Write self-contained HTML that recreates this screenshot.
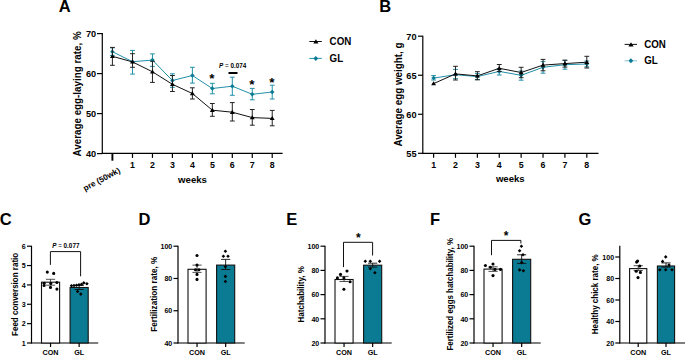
<!DOCTYPE html>
<html><head><meta charset="utf-8"><style>
html,body{margin:0;padding:0;background:#fff;overflow:hidden;width:685px;height:355px;}
svg{display:block;font-family:"Liberation Sans", sans-serif;}
</style></head><body>
<svg width="685" height="355" viewBox="0 0 685 355">
<rect width="685" height="355" fill="#fff"/>
<text x="58.7" y="11.7" font-size="16.5" font-weight="bold" text-anchor="start" fill="#000">A</text>
<text x="379.3" y="11.7" font-size="16.5" font-weight="bold" text-anchor="start" fill="#000">B</text>
<text x="-0.3" y="224.7" font-size="16.5" font-weight="bold" text-anchor="start" fill="#000">C</text>
<text x="138.6" y="224.7" font-size="16.5" font-weight="bold" text-anchor="start" fill="#000">D</text>
<text x="286.2" y="224.7" font-size="16.5" font-weight="bold" text-anchor="start" fill="#000">E</text>
<text x="430.1" y="224.7" font-size="16.5" font-weight="bold" text-anchor="start" fill="#000">F</text>
<text x="578.4" y="224.7" font-size="16.5" font-weight="bold" text-anchor="start" fill="#000">G</text>
<line x1="102.3" y1="33.1" x2="102.3" y2="153.9" stroke="#000" stroke-width="1.2"/>
<line x1="101.7" y1="153.4" x2="282.6" y2="153.4" stroke="#000" stroke-width="1.2"/>
<line x1="97" y1="33.6" x2="102.3" y2="33.6" stroke="#000" stroke-width="1.2"/>
<text x="96.2" y="36.6" font-size="9.2" font-weight="bold" text-anchor="end" fill="#000">70</text>
<line x1="97" y1="73.6" x2="102.3" y2="73.6" stroke="#000" stroke-width="1.2"/>
<text x="96.2" y="76.6" font-size="9.2" font-weight="bold" text-anchor="end" fill="#000">60</text>
<line x1="97" y1="113.6" x2="102.3" y2="113.6" stroke="#000" stroke-width="1.2"/>
<text x="96.2" y="116.6" font-size="9.2" font-weight="bold" text-anchor="end" fill="#000">50</text>
<line x1="97" y1="153.6" x2="102.3" y2="153.6" stroke="#000" stroke-width="1.2"/>
<text x="96.2" y="156.6" font-size="9.2" font-weight="bold" text-anchor="end" fill="#000">40</text>
<line x1="112.4" y1="153.4" x2="112.4" y2="160.70000000000002" stroke="#000" stroke-width="1.9"/>
<line x1="132.5" y1="153.4" x2="132.5" y2="157.9" stroke="#000" stroke-width="1.2"/>
<text x="132.5" y="167.8" font-size="8.8" font-weight="bold" text-anchor="middle" fill="#000">1</text>
<line x1="152.46" y1="153.4" x2="152.46" y2="157.9" stroke="#000" stroke-width="1.2"/>
<text x="152.46" y="167.8" font-size="8.8" font-weight="bold" text-anchor="middle" fill="#000">2</text>
<line x1="172.42000000000002" y1="153.4" x2="172.42000000000002" y2="157.9" stroke="#000" stroke-width="1.2"/>
<text x="172.42000000000002" y="167.8" font-size="8.8" font-weight="bold" text-anchor="middle" fill="#000">3</text>
<line x1="192.38" y1="153.4" x2="192.38" y2="157.9" stroke="#000" stroke-width="1.2"/>
<text x="192.38" y="167.8" font-size="8.8" font-weight="bold" text-anchor="middle" fill="#000">4</text>
<line x1="212.34" y1="153.4" x2="212.34" y2="157.9" stroke="#000" stroke-width="1.2"/>
<text x="212.34" y="167.8" font-size="8.8" font-weight="bold" text-anchor="middle" fill="#000">5</text>
<line x1="232.3" y1="153.4" x2="232.3" y2="157.9" stroke="#000" stroke-width="1.2"/>
<text x="232.3" y="167.8" font-size="8.8" font-weight="bold" text-anchor="middle" fill="#000">6</text>
<line x1="252.26" y1="153.4" x2="252.26" y2="157.9" stroke="#000" stroke-width="1.2"/>
<text x="252.26" y="167.8" font-size="8.8" font-weight="bold" text-anchor="middle" fill="#000">7</text>
<line x1="272.22" y1="153.4" x2="272.22" y2="157.9" stroke="#000" stroke-width="1.2"/>
<text x="272.22" y="167.8" font-size="8.8" font-weight="bold" text-anchor="middle" fill="#000">8</text>
<text x="192.5" y="182.8" font-size="9.6" font-weight="bold" text-anchor="middle" fill="#000">weeks</text>
<text x="0" y="0" font-size="8.2" font-weight="bold" text-anchor="end" transform="translate(120.8 172.2) rotate(-28)" fill="#000">pre (50wk)</text>
<text x="0" y="0" font-size="10.5" font-weight="bold" text-anchor="middle" transform="translate(80.7 93.9) rotate(-90) scale(0.935 1)" fill="#000">Average egg-laying rate, %</text>
<line x1="112.4" y1="47.8" x2="112.4" y2="55.4" stroke="#2190a8" stroke-width="1"/>
<line x1="110.0" y1="47.8" x2="114.80000000000001" y2="47.8" stroke="#2190a8" stroke-width="1"/>
<line x1="110.0" y1="55.4" x2="114.80000000000001" y2="55.4" stroke="#2190a8" stroke-width="1"/>
<line x1="132.5" y1="50.4" x2="132.5" y2="74.1" stroke="#2190a8" stroke-width="1"/>
<line x1="130.1" y1="50.4" x2="134.9" y2="50.4" stroke="#2190a8" stroke-width="1"/>
<line x1="130.1" y1="74.1" x2="134.9" y2="74.1" stroke="#2190a8" stroke-width="1"/>
<line x1="152.46" y1="53.9" x2="152.46" y2="66.4" stroke="#2190a8" stroke-width="1"/>
<line x1="150.06" y1="53.9" x2="154.86" y2="53.9" stroke="#2190a8" stroke-width="1"/>
<line x1="150.06" y1="66.4" x2="154.86" y2="66.4" stroke="#2190a8" stroke-width="1"/>
<line x1="172.42000000000002" y1="73.8" x2="172.42000000000002" y2="87.3" stroke="#2190a8" stroke-width="1"/>
<line x1="170.02" y1="73.8" x2="174.82000000000002" y2="73.8" stroke="#2190a8" stroke-width="1"/>
<line x1="170.02" y1="87.3" x2="174.82000000000002" y2="87.3" stroke="#2190a8" stroke-width="1"/>
<line x1="192.38" y1="67.3" x2="192.38" y2="83.1" stroke="#2190a8" stroke-width="1"/>
<line x1="189.98" y1="67.3" x2="194.78" y2="67.3" stroke="#2190a8" stroke-width="1"/>
<line x1="189.98" y1="83.1" x2="194.78" y2="83.1" stroke="#2190a8" stroke-width="1"/>
<line x1="212.34" y1="83.3" x2="212.34" y2="93.8" stroke="#2190a8" stroke-width="1"/>
<line x1="209.94" y1="83.3" x2="214.74" y2="83.3" stroke="#2190a8" stroke-width="1"/>
<line x1="209.94" y1="93.8" x2="214.74" y2="93.8" stroke="#2190a8" stroke-width="1"/>
<line x1="232.3" y1="77.2" x2="232.3" y2="95.3" stroke="#2190a8" stroke-width="1"/>
<line x1="229.9" y1="77.2" x2="234.70000000000002" y2="77.2" stroke="#2190a8" stroke-width="1"/>
<line x1="229.9" y1="95.3" x2="234.70000000000002" y2="95.3" stroke="#2190a8" stroke-width="1"/>
<line x1="252.26" y1="88.4" x2="252.26" y2="99.8" stroke="#2190a8" stroke-width="1"/>
<line x1="249.85999999999999" y1="88.4" x2="254.66" y2="88.4" stroke="#2190a8" stroke-width="1"/>
<line x1="249.85999999999999" y1="99.8" x2="254.66" y2="99.8" stroke="#2190a8" stroke-width="1"/>
<line x1="272.22" y1="85.2" x2="272.22" y2="99.0" stroke="#2190a8" stroke-width="1"/>
<line x1="269.82000000000005" y1="85.2" x2="274.62" y2="85.2" stroke="#2190a8" stroke-width="1"/>
<line x1="269.82000000000005" y1="99.0" x2="274.62" y2="99.0" stroke="#2190a8" stroke-width="1"/>
<polyline points="112.40,51.70 132.50,61.70 152.46,60.10 172.42,80.50 192.38,75.50 212.34,88.50 232.30,86.20 252.26,94.30 272.22,92.00" fill="none" stroke="#2190a8" stroke-width="1" stroke-linejoin="round"/>
<path d="M112.40,49.45 L114.65,51.70 L112.40,53.95 L110.15,51.70 Z" fill="#0b7b93"/>
<path d="M132.50,59.45 L134.75,61.70 L132.50,63.95 L130.25,61.70 Z" fill="#0b7b93"/>
<path d="M152.46,57.85 L154.71,60.10 L152.46,62.35 L150.21,60.10 Z" fill="#0b7b93"/>
<path d="M172.42,78.25 L174.67,80.50 L172.42,82.75 L170.17,80.50 Z" fill="#0b7b93"/>
<path d="M192.38,73.25 L194.63,75.50 L192.38,77.75 L190.13,75.50 Z" fill="#0b7b93"/>
<path d="M212.34,86.25 L214.59,88.50 L212.34,90.75 L210.09,88.50 Z" fill="#0b7b93"/>
<path d="M232.30,83.95 L234.55,86.20 L232.30,88.45 L230.05,86.20 Z" fill="#0b7b93"/>
<path d="M252.26,92.05 L254.51,94.30 L252.26,96.55 L250.01,94.30 Z" fill="#0b7b93"/>
<path d="M272.22,89.75 L274.47,92.00 L272.22,94.25 L269.97,92.00 Z" fill="#0b7b93"/>
<line x1="112.4" y1="47.4" x2="112.4" y2="65.3" stroke="#222" stroke-width="1"/>
<line x1="110.0" y1="47.4" x2="114.80000000000001" y2="47.4" stroke="#222" stroke-width="1"/>
<line x1="110.0" y1="65.3" x2="114.80000000000001" y2="65.3" stroke="#222" stroke-width="1"/>
<line x1="132.5" y1="53.7" x2="132.5" y2="67.3" stroke="#222" stroke-width="1"/>
<line x1="130.1" y1="53.7" x2="134.9" y2="53.7" stroke="#222" stroke-width="1"/>
<line x1="130.1" y1="67.3" x2="134.9" y2="67.3" stroke="#222" stroke-width="1"/>
<line x1="152.46" y1="61.3" x2="152.46" y2="82.4" stroke="#222" stroke-width="1"/>
<line x1="150.06" y1="61.3" x2="154.86" y2="61.3" stroke="#222" stroke-width="1"/>
<line x1="150.06" y1="82.4" x2="154.86" y2="82.4" stroke="#222" stroke-width="1"/>
<line x1="172.42000000000002" y1="75.5" x2="172.42000000000002" y2="91.5" stroke="#222" stroke-width="1"/>
<line x1="170.02" y1="75.5" x2="174.82000000000002" y2="75.5" stroke="#222" stroke-width="1"/>
<line x1="170.02" y1="91.5" x2="174.82000000000002" y2="91.5" stroke="#222" stroke-width="1"/>
<line x1="192.38" y1="87.8" x2="192.38" y2="99.0" stroke="#222" stroke-width="1"/>
<line x1="189.98" y1="87.8" x2="194.78" y2="87.8" stroke="#222" stroke-width="1"/>
<line x1="189.98" y1="99.0" x2="194.78" y2="99.0" stroke="#222" stroke-width="1"/>
<line x1="212.34" y1="103.5" x2="212.34" y2="116.3" stroke="#222" stroke-width="1"/>
<line x1="209.94" y1="103.5" x2="214.74" y2="103.5" stroke="#222" stroke-width="1"/>
<line x1="209.94" y1="116.3" x2="214.74" y2="116.3" stroke="#222" stroke-width="1"/>
<line x1="232.3" y1="102.6" x2="232.3" y2="121.0" stroke="#222" stroke-width="1"/>
<line x1="229.9" y1="102.6" x2="234.70000000000002" y2="102.6" stroke="#222" stroke-width="1"/>
<line x1="229.9" y1="121.0" x2="234.70000000000002" y2="121.0" stroke="#222" stroke-width="1"/>
<line x1="252.26" y1="109.5" x2="252.26" y2="125.2" stroke="#222" stroke-width="1"/>
<line x1="249.85999999999999" y1="109.5" x2="254.66" y2="109.5" stroke="#222" stroke-width="1"/>
<line x1="249.85999999999999" y1="125.2" x2="254.66" y2="125.2" stroke="#222" stroke-width="1"/>
<line x1="272.22" y1="110.4" x2="272.22" y2="125.8" stroke="#222" stroke-width="1"/>
<line x1="269.82000000000005" y1="110.4" x2="274.62" y2="110.4" stroke="#222" stroke-width="1"/>
<line x1="269.82000000000005" y1="125.8" x2="274.62" y2="125.8" stroke="#222" stroke-width="1"/>
<polyline points="112.40,56.30 132.50,61.90 152.46,71.80 172.42,84.30 192.38,93.50 212.34,110.20 232.30,112.20 252.26,117.60 272.22,118.40" fill="none" stroke="#111" stroke-width="1" stroke-linejoin="round"/>
<path d="M112.40,53.90 L114.85,58.00 L109.95,58.00 Z" fill="#000"/>
<path d="M132.50,59.50 L134.95,63.60 L130.05,63.60 Z" fill="#000"/>
<path d="M152.46,69.40 L154.91,73.50 L150.01,73.50 Z" fill="#000"/>
<path d="M172.42,81.90 L174.87,86.00 L169.97,86.00 Z" fill="#000"/>
<path d="M192.38,91.10 L194.83,95.20 L189.93,95.20 Z" fill="#000"/>
<path d="M212.34,107.80 L214.79,111.90 L209.89,111.90 Z" fill="#000"/>
<path d="M232.30,109.80 L234.75,113.90 L229.85,113.90 Z" fill="#000"/>
<path d="M252.26,115.20 L254.71,119.30 L249.81,119.30 Z" fill="#000"/>
<path d="M272.22,116.00 L274.67,120.10 L269.77,120.10 Z" fill="#000"/>
<text x="212" y="82.7" font-size="13.5" font-weight="bold" text-anchor="middle" fill="#000">*</text>
<text x="252" y="88.9" font-size="13.5" font-weight="bold" text-anchor="middle" fill="#000">*</text>
<text x="272" y="86.9" font-size="13.5" font-weight="bold" text-anchor="middle" fill="#000">*</text>
<line x1="228.5" y1="73" x2="237.5" y2="73" stroke="#000" stroke-width="2"/>
<text x="232.6" y="67.8" font-size="6.9" font-weight="bold" text-anchor="middle" transform="translate(232.6 0) scale(0.92 1) translate(-232.6 0)"><tspan font-style="italic">P</tspan><tspan font-weight="normal"> = </tspan>0.074</text>
<line x1="309.3" y1="41.5" x2="321.8" y2="41.5" stroke="#111" stroke-width="1"/>
<path d="M315.90,39.30 L318.50,43.50 L313.30,43.50 Z" fill="#000"/>
<text x="0" y="0" font-size="10.5" font-weight="bold" text-anchor="start" transform="translate(329.6 44.8) scale(0.93 1)" fill="#000">CON</text>
<line x1="309.3" y1="58.4" x2="321.8" y2="58.4" stroke="#2190a8" stroke-width="1"/>
<path d="M315.80,55.90 L318.20,58.40 L315.80,60.90 L313.40,58.40 Z" fill="#0b7b93"/>
<text x="0" y="0" font-size="10.5" font-weight="bold" text-anchor="start" transform="translate(329.6 61.8) scale(0.93 1)" fill="#000">GL</text>
<line x1="422.8" y1="35.7" x2="422.8" y2="153.8" stroke="#000" stroke-width="1.2"/>
<line x1="422.2" y1="153.3" x2="598.5" y2="153.3" stroke="#000" stroke-width="1.2"/>
<line x1="418" y1="36.2" x2="422.8" y2="36.2" stroke="#000" stroke-width="1.2"/>
<text x="416.6" y="39.7" font-size="9.2" font-weight="bold" text-anchor="end" fill="#000">70</text>
<line x1="418" y1="75.23333333333333" x2="422.8" y2="75.23333333333333" stroke="#000" stroke-width="1.2"/>
<text x="416.6" y="78.73333333333333" font-size="9.2" font-weight="bold" text-anchor="end" fill="#000">65</text>
<line x1="418" y1="114.26666666666667" x2="422.8" y2="114.26666666666667" stroke="#000" stroke-width="1.2"/>
<text x="416.6" y="117.76666666666667" font-size="9.2" font-weight="bold" text-anchor="end" fill="#000">60</text>
<line x1="418" y1="153.3" x2="422.8" y2="153.3" stroke="#000" stroke-width="1.2"/>
<text x="416.6" y="156.8" font-size="9.2" font-weight="bold" text-anchor="end" fill="#000">55</text>
<line x1="433.6" y1="153.3" x2="433.6" y2="157.8" stroke="#000" stroke-width="1.2"/>
<text x="433.6" y="167.8" font-size="8.8" font-weight="bold" text-anchor="middle" fill="#000">1</text>
<line x1="455.48600000000005" y1="153.3" x2="455.48600000000005" y2="157.8" stroke="#000" stroke-width="1.2"/>
<text x="455.48600000000005" y="167.8" font-size="8.8" font-weight="bold" text-anchor="middle" fill="#000">2</text>
<line x1="477.372" y1="153.3" x2="477.372" y2="157.8" stroke="#000" stroke-width="1.2"/>
<text x="477.372" y="167.8" font-size="8.8" font-weight="bold" text-anchor="middle" fill="#000">3</text>
<line x1="499.25800000000004" y1="153.3" x2="499.25800000000004" y2="157.8" stroke="#000" stroke-width="1.2"/>
<text x="499.25800000000004" y="167.8" font-size="8.8" font-weight="bold" text-anchor="middle" fill="#000">4</text>
<line x1="521.144" y1="153.3" x2="521.144" y2="157.8" stroke="#000" stroke-width="1.2"/>
<text x="521.144" y="167.8" font-size="8.8" font-weight="bold" text-anchor="middle" fill="#000">5</text>
<line x1="543.03" y1="153.3" x2="543.03" y2="157.8" stroke="#000" stroke-width="1.2"/>
<text x="543.03" y="167.8" font-size="8.8" font-weight="bold" text-anchor="middle" fill="#000">6</text>
<line x1="564.916" y1="153.3" x2="564.916" y2="157.8" stroke="#000" stroke-width="1.2"/>
<text x="564.916" y="167.8" font-size="8.8" font-weight="bold" text-anchor="middle" fill="#000">7</text>
<line x1="586.802" y1="153.3" x2="586.802" y2="157.8" stroke="#000" stroke-width="1.2"/>
<text x="586.802" y="167.8" font-size="8.8" font-weight="bold" text-anchor="middle" fill="#000">8</text>
<text x="510.3" y="182.2" font-size="9.6" font-weight="bold" text-anchor="middle" fill="#000">weeks</text>
<text x="0" y="0" font-size="10.5" font-weight="bold" text-anchor="middle" transform="translate(402.2 94.5) rotate(-90) scale(0.94 1)" fill="#000">Average egg weight, g</text>
<line x1="433.6" y1="75.6" x2="433.6" y2="80.0" stroke="#2190a8" stroke-width="1"/>
<line x1="431.20000000000005" y1="75.6" x2="436.0" y2="75.6" stroke="#2190a8" stroke-width="1"/>
<line x1="431.20000000000005" y1="80.0" x2="436.0" y2="80.0" stroke="#2190a8" stroke-width="1"/>
<line x1="455.48600000000005" y1="69.4" x2="455.48600000000005" y2="78.7" stroke="#2190a8" stroke-width="1"/>
<line x1="453.08600000000007" y1="69.4" x2="457.886" y2="69.4" stroke="#2190a8" stroke-width="1"/>
<line x1="453.08600000000007" y1="78.7" x2="457.886" y2="78.7" stroke="#2190a8" stroke-width="1"/>
<line x1="477.372" y1="73.6" x2="477.372" y2="79.6" stroke="#2190a8" stroke-width="1"/>
<line x1="474.97200000000004" y1="73.6" x2="479.772" y2="73.6" stroke="#2190a8" stroke-width="1"/>
<line x1="474.97200000000004" y1="79.6" x2="479.772" y2="79.6" stroke="#2190a8" stroke-width="1"/>
<line x1="499.25800000000004" y1="68.5" x2="499.25800000000004" y2="75.0" stroke="#2190a8" stroke-width="1"/>
<line x1="496.85800000000006" y1="68.5" x2="501.658" y2="68.5" stroke="#2190a8" stroke-width="1"/>
<line x1="496.85800000000006" y1="75.0" x2="501.658" y2="75.0" stroke="#2190a8" stroke-width="1"/>
<line x1="521.144" y1="71.0" x2="521.144" y2="80.2" stroke="#2190a8" stroke-width="1"/>
<line x1="518.744" y1="71.0" x2="523.544" y2="71.0" stroke="#2190a8" stroke-width="1"/>
<line x1="518.744" y1="80.2" x2="523.544" y2="80.2" stroke="#2190a8" stroke-width="1"/>
<line x1="543.03" y1="61.6" x2="543.03" y2="73.2" stroke="#2190a8" stroke-width="1"/>
<line x1="540.63" y1="61.6" x2="545.43" y2="61.6" stroke="#2190a8" stroke-width="1"/>
<line x1="540.63" y1="73.2" x2="545.43" y2="73.2" stroke="#2190a8" stroke-width="1"/>
<line x1="564.916" y1="60.5" x2="564.916" y2="69.2" stroke="#2190a8" stroke-width="1"/>
<line x1="562.5160000000001" y1="60.5" x2="567.316" y2="60.5" stroke="#2190a8" stroke-width="1"/>
<line x1="562.5160000000001" y1="69.2" x2="567.316" y2="69.2" stroke="#2190a8" stroke-width="1"/>
<line x1="586.802" y1="61.0" x2="586.802" y2="66.8" stroke="#2190a8" stroke-width="1"/>
<line x1="584.402" y1="61.0" x2="589.202" y2="61.0" stroke="#2190a8" stroke-width="1"/>
<line x1="584.402" y1="66.8" x2="589.202" y2="66.8" stroke="#2190a8" stroke-width="1"/>
<polyline points="433.60,78.10 455.49,74.70 477.37,76.60 499.26,71.40 521.14,75.30 543.03,67.30 564.92,64.70 586.80,64.00" fill="none" stroke="#2190a8" stroke-width="1" stroke-linejoin="round"/>
<path d="M433.60,75.85 L435.85,78.10 L433.60,80.35 L431.35,78.10 Z" fill="#0b7b93"/>
<path d="M455.49,72.45 L457.74,74.70 L455.49,76.95 L453.24,74.70 Z" fill="#0b7b93"/>
<path d="M477.37,74.35 L479.62,76.60 L477.37,78.85 L475.12,76.60 Z" fill="#0b7b93"/>
<path d="M499.26,69.15 L501.51,71.40 L499.26,73.65 L497.01,71.40 Z" fill="#0b7b93"/>
<path d="M521.14,73.05 L523.39,75.30 L521.14,77.55 L518.89,75.30 Z" fill="#0b7b93"/>
<path d="M543.03,65.05 L545.28,67.30 L543.03,69.55 L540.78,67.30 Z" fill="#0b7b93"/>
<path d="M564.92,62.45 L567.17,64.70 L564.92,66.95 L562.67,64.70 Z" fill="#0b7b93"/>
<path d="M586.80,61.75 L589.05,64.00 L586.80,66.25 L584.55,64.00 Z" fill="#0b7b93"/>
<line x1="455.48600000000005" y1="66.3" x2="455.48600000000005" y2="80.0" stroke="#222" stroke-width="1"/>
<line x1="453.08600000000007" y1="66.3" x2="457.886" y2="66.3" stroke="#222" stroke-width="1"/>
<line x1="453.08600000000007" y1="80.0" x2="457.886" y2="80.0" stroke="#222" stroke-width="1"/>
<line x1="477.372" y1="71.7" x2="477.372" y2="79.8" stroke="#222" stroke-width="1"/>
<line x1="474.97200000000004" y1="71.7" x2="479.772" y2="71.7" stroke="#222" stroke-width="1"/>
<line x1="474.97200000000004" y1="79.8" x2="479.772" y2="79.8" stroke="#222" stroke-width="1"/>
<line x1="499.25800000000004" y1="64.5" x2="499.25800000000004" y2="71.5" stroke="#222" stroke-width="1"/>
<line x1="496.85800000000006" y1="64.5" x2="501.658" y2="64.5" stroke="#222" stroke-width="1"/>
<line x1="496.85800000000006" y1="71.5" x2="501.658" y2="71.5" stroke="#222" stroke-width="1"/>
<line x1="521.144" y1="67.3" x2="521.144" y2="77.7" stroke="#222" stroke-width="1"/>
<line x1="518.744" y1="67.3" x2="523.544" y2="67.3" stroke="#222" stroke-width="1"/>
<line x1="518.744" y1="77.7" x2="523.544" y2="77.7" stroke="#222" stroke-width="1"/>
<line x1="543.03" y1="59.4" x2="543.03" y2="70.8" stroke="#222" stroke-width="1"/>
<line x1="540.63" y1="59.4" x2="545.43" y2="59.4" stroke="#222" stroke-width="1"/>
<line x1="540.63" y1="70.8" x2="545.43" y2="70.8" stroke="#222" stroke-width="1"/>
<line x1="564.916" y1="60.1" x2="564.916" y2="67.1" stroke="#222" stroke-width="1"/>
<line x1="562.5160000000001" y1="60.1" x2="567.316" y2="60.1" stroke="#222" stroke-width="1"/>
<line x1="562.5160000000001" y1="67.1" x2="567.316" y2="67.1" stroke="#222" stroke-width="1"/>
<line x1="586.802" y1="56.3" x2="586.802" y2="68.0" stroke="#222" stroke-width="1"/>
<line x1="584.402" y1="56.3" x2="589.202" y2="56.3" stroke="#222" stroke-width="1"/>
<line x1="584.402" y1="68.0" x2="589.202" y2="68.0" stroke="#222" stroke-width="1"/>
<polyline points="433.60,83.60 455.49,73.90 477.37,75.90 499.26,68.30 521.14,72.50 543.03,65.10 564.92,63.60 586.80,62.20" fill="none" stroke="#111" stroke-width="1" stroke-linejoin="round"/>
<path d="M433.60,81.20 L436.05,85.30 L431.15,85.30 Z" fill="#000"/>
<path d="M455.49,71.50 L457.94,75.60 L453.04,75.60 Z" fill="#000"/>
<path d="M477.37,73.50 L479.82,77.60 L474.92,77.60 Z" fill="#000"/>
<path d="M499.26,65.90 L501.71,70.00 L496.81,70.00 Z" fill="#000"/>
<path d="M521.14,70.10 L523.59,74.20 L518.69,74.20 Z" fill="#000"/>
<path d="M543.03,62.70 L545.48,66.80 L540.58,66.80 Z" fill="#000"/>
<path d="M564.92,61.20 L567.37,65.30 L562.47,65.30 Z" fill="#000"/>
<path d="M586.80,59.80 L589.25,63.90 L584.35,63.90 Z" fill="#000"/>
<line x1="624.6" y1="44.4" x2="637" y2="44.4" stroke="#111" stroke-width="1"/>
<path d="M631.00,42.20 L633.60,46.40 L628.40,46.40 Z" fill="#000"/>
<text x="0" y="0" font-size="10.5" font-weight="bold" text-anchor="start" transform="translate(644.2 47.8) scale(0.93 1)" fill="#000">CON</text>
<line x1="624.6" y1="60.8" x2="637" y2="60.8" stroke="#8cc4d0" stroke-width="1"/>
<path d="M630.90,58.30 L633.30,60.80 L630.90,63.30 L628.50,60.80 Z" fill="#0b7b93"/>
<text x="0" y="0" font-size="10.5" font-weight="bold" text-anchor="start" transform="translate(644.2 64.1) scale(0.93 1)" fill="#000">GL</text>
<line x1="31.5" y1="245.79999999999998" x2="31.5" y2="343.4" stroke="#000" stroke-width="1.2"/>
<line x1="31.0" y1="343" x2="98.2" y2="343" stroke="#000" stroke-width="1.2"/>
<line x1="27.0" y1="343.0" x2="31.5" y2="343.0" stroke="#000" stroke-width="1.2"/>
<text x="0" y="0" font-size="7.7" font-weight="bold" text-anchor="end" transform="translate(25.8 345.75) scale(0.92 1)" fill="#000">1</text>
<line x1="27.0" y1="323.64" x2="31.5" y2="323.64" stroke="#000" stroke-width="1.2"/>
<text x="0" y="0" font-size="7.7" font-weight="bold" text-anchor="end" transform="translate(25.8 326.39) scale(0.92 1)" fill="#000">2</text>
<line x1="27.0" y1="304.28" x2="31.5" y2="304.28" stroke="#000" stroke-width="1.2"/>
<text x="0" y="0" font-size="7.7" font-weight="bold" text-anchor="end" transform="translate(25.8 307.03) scale(0.92 1)" fill="#000">3</text>
<line x1="27.0" y1="284.92" x2="31.5" y2="284.92" stroke="#000" stroke-width="1.2"/>
<text x="0" y="0" font-size="7.7" font-weight="bold" text-anchor="end" transform="translate(25.8 287.67) scale(0.92 1)" fill="#000">4</text>
<line x1="27.0" y1="265.56" x2="31.5" y2="265.56" stroke="#000" stroke-width="1.2"/>
<text x="0" y="0" font-size="7.7" font-weight="bold" text-anchor="end" transform="translate(25.8 268.31) scale(0.92 1)" fill="#000">5</text>
<line x1="27.0" y1="246.2" x2="31.5" y2="246.2" stroke="#000" stroke-width="1.2"/>
<text x="0" y="0" font-size="7.7" font-weight="bold" text-anchor="end" transform="translate(25.8 248.95) scale(0.92 1)" fill="#000">6</text>
<rect x="41.50" y="282.20" width="18.10" height="60.80" fill="#fff" stroke="#111" stroke-width="1.1"/>
<line x1="50.55" y1="343" x2="50.55" y2="347" stroke="#000" stroke-width="1.2"/>
<rect x="70.10" y="287.50" width="18.10" height="55.50" fill="#0b7b93" stroke="#111" stroke-width="1.1"/>
<line x1="79.14999999999999" y1="343" x2="79.14999999999999" y2="347" stroke="#000" stroke-width="1.2"/>
<text x="50.55" y="355.3" font-size="7.2" font-weight="bold" text-anchor="middle" fill="#000">CON</text>
<text x="79.14999999999999" y="355.3" font-size="7.2" font-weight="bold" text-anchor="middle" fill="#000">GL</text>
<line x1="50.55" y1="279.3" x2="50.55" y2="285.2" stroke="#333" stroke-width="0.85"/>
<line x1="45.949999999999996" y1="279.3" x2="55.15" y2="279.3" stroke="#333" stroke-width="0.85"/>
<line x1="45.949999999999996" y1="285.2" x2="55.15" y2="285.2" stroke="#333" stroke-width="0.85"/>
<line x1="79.14999999999999" y1="285.5" x2="79.14999999999999" y2="289.5" stroke="#111" stroke-width="0.9"/>
<line x1="74.55" y1="285.5" x2="83.74999999999999" y2="285.5" stroke="#111" stroke-width="0.9"/>
<line x1="74.55" y1="289.5" x2="83.74999999999999" y2="289.5" stroke="#111" stroke-width="0.9"/>
<circle cx="47.3" cy="272.1" r="1.55" fill="#000"/>
<circle cx="53.7" cy="273.4" r="1.55" fill="#000"/>
<circle cx="44.1" cy="283.2" r="1.55" fill="#000"/>
<circle cx="44.1" cy="285.5" r="1.55" fill="#000"/>
<circle cx="50.8" cy="283.4" r="1.55" fill="#000"/>
<circle cx="56.9" cy="282.5" r="1.55" fill="#000"/>
<circle cx="50.5" cy="287.4" r="1.55" fill="#000"/>
<circle cx="56.9" cy="289.1" r="1.55" fill="#000"/>
<path d="M71.50,283.90 L73.30,285.70 L71.50,287.50 L69.70,285.70 Z" fill="#000"/>
<path d="M74.00,283.70 L75.80,285.50 L74.00,287.30 L72.20,285.50 Z" fill="#000"/>
<path d="M76.50,283.40 L78.30,285.20 L76.50,287.00 L74.70,285.20 Z" fill="#000"/>
<path d="M79.00,282.90 L80.80,284.70 L79.00,286.50 L77.20,284.70 Z" fill="#000"/>
<path d="M81.50,282.40 L83.30,284.20 L81.50,286.00 L79.70,284.20 Z" fill="#000"/>
<path d="M83.80,281.10 L85.60,282.90 L83.80,284.70 L82.00,282.90 Z" fill="#000"/>
<path d="M86.90,281.90 L88.70,283.70 L86.90,285.50 L85.10,283.70 Z" fill="#000"/>
<path d="M77.60,289.60 L79.40,291.40 L77.60,293.20 L75.80,291.40 Z" fill="#000"/>
<path d="M80.80,292.30 L82.60,294.10 L80.80,295.90 L79.00,294.10 Z" fill="#000"/>
<text x="0" y="0" font-size="8.9" font-weight="bold" text-anchor="middle" transform="translate(18.0 294.4) rotate(-90) scale(0.9 1)" fill="#000">Feed conversion ratio</text>
<polyline points="50.40,264.90 50.40,251.60 80.60,251.60 80.60,276.30" fill="none" stroke="#111" stroke-width="1" stroke-linejoin="round"/>
<text x="65.8" y="248.0" font-size="6.9" font-weight="bold" text-anchor="middle" transform="translate(65.8 0) scale(0.92 1) translate(-65.8 0)"><tspan font-style="italic">P</tspan><tspan font-weight="normal"> = </tspan>0.077</text>
<line x1="178" y1="245.79999999999998" x2="178" y2="343.4" stroke="#000" stroke-width="1.2"/>
<line x1="177.5" y1="343" x2="244.7" y2="343" stroke="#000" stroke-width="1.2"/>
<line x1="173.5" y1="343.0" x2="178" y2="343.0" stroke="#000" stroke-width="1.2"/>
<text x="0" y="0" font-size="7.7" font-weight="bold" text-anchor="end" transform="translate(172.3 345.75) scale(0.92 1)" fill="#000">40</text>
<line x1="173.5" y1="310.73333333333335" x2="178" y2="310.73333333333335" stroke="#000" stroke-width="1.2"/>
<text x="0" y="0" font-size="7.7" font-weight="bold" text-anchor="end" transform="translate(172.3 313.48333333333335) scale(0.92 1)" fill="#000">60</text>
<line x1="173.5" y1="278.46666666666664" x2="178" y2="278.46666666666664" stroke="#000" stroke-width="1.2"/>
<text x="0" y="0" font-size="7.7" font-weight="bold" text-anchor="end" transform="translate(172.3 281.21666666666664) scale(0.92 1)" fill="#000">80</text>
<line x1="173.5" y1="246.2" x2="178" y2="246.2" stroke="#000" stroke-width="1.2"/>
<text x="0" y="0" font-size="7.7" font-weight="bold" text-anchor="end" transform="translate(172.3 248.95) scale(0.92 1)" fill="#000">100</text>
<rect x="188.00" y="269.30" width="18.10" height="73.70" fill="#fff" stroke="#111" stroke-width="1.1"/>
<line x1="197.05" y1="343" x2="197.05" y2="347" stroke="#000" stroke-width="1.2"/>
<rect x="216.60" y="265.10" width="18.10" height="77.90" fill="#0b7b93" stroke="#111" stroke-width="1.1"/>
<line x1="225.65" y1="343" x2="225.65" y2="347" stroke="#000" stroke-width="1.2"/>
<text x="197.05" y="355.3" font-size="7.2" font-weight="bold" text-anchor="middle" fill="#000">CON</text>
<text x="225.65" y="355.3" font-size="7.2" font-weight="bold" text-anchor="middle" fill="#000">GL</text>
<line x1="197.05" y1="265.1" x2="197.05" y2="272.4" stroke="#333" stroke-width="0.85"/>
<line x1="192.45000000000002" y1="265.1" x2="201.65" y2="265.1" stroke="#333" stroke-width="0.85"/>
<line x1="192.45000000000002" y1="272.4" x2="201.65" y2="272.4" stroke="#333" stroke-width="0.85"/>
<line x1="225.65" y1="259.4" x2="225.65" y2="269.5" stroke="#111" stroke-width="0.9"/>
<line x1="221.05" y1="259.4" x2="230.25" y2="259.4" stroke="#111" stroke-width="0.9"/>
<line x1="221.05" y1="269.5" x2="230.25" y2="269.5" stroke="#111" stroke-width="0.9"/>
<circle cx="197" cy="255.5" r="1.55" fill="#000"/>
<circle cx="197" cy="265.1" r="1.55" fill="#000"/>
<circle cx="195.5" cy="269.8" r="1.55" fill="#000"/>
<circle cx="198.9" cy="269.8" r="1.55" fill="#000"/>
<circle cx="197" cy="274.4" r="1.55" fill="#000"/>
<circle cx="197" cy="279.4" r="1.55" fill="#000"/>
<path d="M225.40,249.40 L227.20,251.20 L225.40,253.00 L223.60,251.20 Z" fill="#000"/>
<path d="M223.40,254.40 L225.20,256.20 L223.40,258.00 L221.60,256.20 Z" fill="#000"/>
<path d="M228.00,254.40 L229.80,256.20 L228.00,258.00 L226.20,256.20 Z" fill="#000"/>
<path d="M225.40,264.90 L227.20,266.70 L225.40,268.50 L223.60,266.70 Z" fill="#000"/>
<path d="M225.40,274.60 L227.20,276.40 L225.40,278.20 L223.60,276.40 Z" fill="#000"/>
<path d="M225.40,279.70 L227.20,281.50 L225.40,283.30 L223.60,281.50 Z" fill="#000"/>
<text x="0" y="0" font-size="8.9" font-weight="bold" text-anchor="middle" transform="translate(156.6 294.2) rotate(-90) scale(0.92 1)" fill="#000">Fertilization rate, %</text>
<line x1="325" y1="245.79999999999998" x2="325" y2="343.4" stroke="#000" stroke-width="1.2"/>
<line x1="324.5" y1="343" x2="391.7" y2="343" stroke="#000" stroke-width="1.2"/>
<line x1="320.5" y1="343.0" x2="325" y2="343.0" stroke="#000" stroke-width="1.2"/>
<text x="0" y="0" font-size="7.7" font-weight="bold" text-anchor="end" transform="translate(319.3 345.75) scale(0.92 1)" fill="#000">20</text>
<line x1="320.5" y1="318.8" x2="325" y2="318.8" stroke="#000" stroke-width="1.2"/>
<text x="0" y="0" font-size="7.7" font-weight="bold" text-anchor="end" transform="translate(319.3 321.55) scale(0.92 1)" fill="#000">40</text>
<line x1="320.5" y1="294.6" x2="325" y2="294.6" stroke="#000" stroke-width="1.2"/>
<text x="0" y="0" font-size="7.7" font-weight="bold" text-anchor="end" transform="translate(319.3 297.35) scale(0.92 1)" fill="#000">60</text>
<line x1="320.5" y1="270.4" x2="325" y2="270.4" stroke="#000" stroke-width="1.2"/>
<text x="0" y="0" font-size="7.7" font-weight="bold" text-anchor="end" transform="translate(319.3 273.15) scale(0.92 1)" fill="#000">80</text>
<line x1="320.5" y1="246.2" x2="325" y2="246.2" stroke="#000" stroke-width="1.2"/>
<text x="0" y="0" font-size="7.7" font-weight="bold" text-anchor="end" transform="translate(319.3 248.95) scale(0.92 1)" fill="#000">100</text>
<rect x="335.00" y="279.50" width="18.10" height="63.50" fill="#fff" stroke="#111" stroke-width="1.1"/>
<line x1="344.05" y1="343" x2="344.05" y2="347" stroke="#000" stroke-width="1.2"/>
<rect x="363.60" y="265.20" width="18.10" height="77.80" fill="#0b7b93" stroke="#111" stroke-width="1.1"/>
<line x1="372.65000000000003" y1="343" x2="372.65000000000003" y2="347" stroke="#000" stroke-width="1.2"/>
<text x="344.05" y="355.3" font-size="7.2" font-weight="bold" text-anchor="middle" fill="#000">CON</text>
<text x="372.65000000000003" y="355.3" font-size="7.2" font-weight="bold" text-anchor="middle" fill="#000">GL</text>
<line x1="344.05" y1="276.4" x2="344.05" y2="281.5" stroke="#333" stroke-width="0.85"/>
<line x1="339.45" y1="276.4" x2="348.65000000000003" y2="276.4" stroke="#333" stroke-width="0.85"/>
<line x1="339.45" y1="281.5" x2="348.65000000000003" y2="281.5" stroke="#333" stroke-width="0.85"/>
<line x1="372.65000000000003" y1="263.2" x2="372.65000000000003" y2="267.1" stroke="#111" stroke-width="0.9"/>
<line x1="368.05" y1="263.2" x2="377.25000000000006" y2="263.2" stroke="#111" stroke-width="0.9"/>
<line x1="368.05" y1="267.1" x2="377.25000000000006" y2="267.1" stroke="#111" stroke-width="0.9"/>
<circle cx="347" cy="271" r="1.55" fill="#000"/>
<circle cx="340.5" cy="274.4" r="1.55" fill="#000"/>
<circle cx="337.4" cy="277.9" r="1.55" fill="#000"/>
<circle cx="343.9" cy="277.9" r="1.55" fill="#000"/>
<circle cx="350.1" cy="281.8" r="1.55" fill="#000"/>
<circle cx="343.9" cy="289.2" r="1.55" fill="#000"/>
<path d="M365.30,259.40 L367.10,261.20 L365.30,263.00 L363.50,261.20 Z" fill="#000"/>
<path d="M370.30,259.40 L372.10,261.20 L370.30,263.00 L368.50,261.20 Z" fill="#000"/>
<path d="M379.60,259.40 L381.40,261.20 L379.60,263.00 L377.80,261.20 Z" fill="#000"/>
<path d="M370.30,266.90 L372.10,268.70 L370.30,270.50 L368.50,268.70 Z" fill="#000"/>
<path d="M374.90,271.00 L376.70,272.80 L374.90,274.60 L373.10,272.80 Z" fill="#000"/>
<text x="0" y="0" font-size="8.9" font-weight="bold" text-anchor="middle" transform="translate(303.6 294.3) rotate(-90) scale(0.9 1)" fill="#000">Hatchability, %</text>
<polyline points="343.50,267.10 343.50,242.30 372.60,242.30 372.60,255.50" fill="none" stroke="#111" stroke-width="1" stroke-linejoin="round"/>
<text x="358.3" y="242.20000000000002" font-size="12" font-weight="bold" text-anchor="middle" fill="#000">*</text>
<line x1="474" y1="245.79999999999998" x2="474" y2="343.4" stroke="#000" stroke-width="1.2"/>
<line x1="473.5" y1="343" x2="540.7" y2="343" stroke="#000" stroke-width="1.2"/>
<line x1="469.5" y1="343.0" x2="474" y2="343.0" stroke="#000" stroke-width="1.2"/>
<text x="0" y="0" font-size="7.7" font-weight="bold" text-anchor="end" transform="translate(468.3 345.75) scale(0.92 1)" fill="#000">20</text>
<line x1="469.5" y1="318.8" x2="474" y2="318.8" stroke="#000" stroke-width="1.2"/>
<text x="0" y="0" font-size="7.7" font-weight="bold" text-anchor="end" transform="translate(468.3 321.55) scale(0.92 1)" fill="#000">40</text>
<line x1="469.5" y1="294.6" x2="474" y2="294.6" stroke="#000" stroke-width="1.2"/>
<text x="0" y="0" font-size="7.7" font-weight="bold" text-anchor="end" transform="translate(468.3 297.35) scale(0.92 1)" fill="#000">60</text>
<line x1="469.5" y1="270.4" x2="474" y2="270.4" stroke="#000" stroke-width="1.2"/>
<text x="0" y="0" font-size="7.7" font-weight="bold" text-anchor="end" transform="translate(468.3 273.15) scale(0.92 1)" fill="#000">80</text>
<line x1="469.5" y1="246.2" x2="474" y2="246.2" stroke="#000" stroke-width="1.2"/>
<text x="0" y="0" font-size="7.7" font-weight="bold" text-anchor="end" transform="translate(468.3 248.95) scale(0.92 1)" fill="#000">100</text>
<rect x="484.00" y="269.10" width="18.10" height="73.90" fill="#fff" stroke="#111" stroke-width="1.1"/>
<line x1="493.05" y1="343" x2="493.05" y2="347" stroke="#000" stroke-width="1.2"/>
<rect x="512.60" y="259.30" width="18.10" height="83.70" fill="#0b7b93" stroke="#111" stroke-width="1.1"/>
<line x1="521.65" y1="343" x2="521.65" y2="347" stroke="#000" stroke-width="1.2"/>
<text x="493.05" y="355.3" font-size="7.2" font-weight="bold" text-anchor="middle" fill="#000">CON</text>
<text x="521.65" y="355.3" font-size="7.2" font-weight="bold" text-anchor="middle" fill="#000">GL</text>
<line x1="493.05" y1="266.8" x2="493.05" y2="271.4" stroke="#333" stroke-width="0.85"/>
<line x1="488.45" y1="266.8" x2="497.65000000000003" y2="266.8" stroke="#333" stroke-width="0.85"/>
<line x1="488.45" y1="271.4" x2="497.65000000000003" y2="271.4" stroke="#333" stroke-width="0.85"/>
<line x1="521.65" y1="254.8" x2="521.65" y2="263.4" stroke="#111" stroke-width="0.9"/>
<line x1="517.05" y1="254.8" x2="526.25" y2="254.8" stroke="#111" stroke-width="0.9"/>
<line x1="517.05" y1="263.4" x2="526.25" y2="263.4" stroke="#111" stroke-width="0.9"/>
<circle cx="485.4" cy="265.5" r="1.55" fill="#000"/>
<circle cx="493" cy="264" r="1.55" fill="#000"/>
<circle cx="490.4" cy="267.2" r="1.55" fill="#000"/>
<circle cx="495" cy="269.4" r="1.55" fill="#000"/>
<circle cx="500.5" cy="269.4" r="1.55" fill="#000"/>
<circle cx="493" cy="275.6" r="1.55" fill="#000"/>
<path d="M521.40,244.40 L523.20,246.20 L521.40,248.00 L519.60,246.20 Z" fill="#000"/>
<path d="M519.60,249.00 L521.40,250.80 L519.60,252.60 L517.80,250.80 Z" fill="#000"/>
<path d="M523.00,253.00 L524.80,254.80 L523.00,256.60 L521.20,254.80 Z" fill="#000"/>
<path d="M521.70,260.80 L523.50,262.60 L521.70,264.40 L519.90,262.60 Z" fill="#000"/>
<path d="M519.60,268.10 L521.40,269.90 L519.60,271.70 L517.80,269.90 Z" fill="#000"/>
<path d="M523.40,268.90 L525.20,270.70 L523.40,272.50 L521.60,270.70 Z" fill="#000"/>
<text x="0" y="0" font-size="9" font-weight="bold" text-anchor="middle" transform="translate(452.8 294.3) rotate(-90) scale(0.882 1)" fill="#000">Fertilized eggs hatchability, %</text>
<polyline points="491.50,255.20 491.50,240.40 520.90,240.40 520.90,243.50" fill="none" stroke="#111" stroke-width="1" stroke-linejoin="round"/>
<text x="506.2" y="239.9" font-size="12" font-weight="bold" text-anchor="middle" fill="#000">*</text>
<line x1="619.8" y1="245.85" x2="619.8" y2="343.4" stroke="#000" stroke-width="1.2"/>
<line x1="619.3" y1="343" x2="689.8" y2="343" stroke="#000" stroke-width="1.2"/>
<line x1="615.3" y1="343.0" x2="619.8" y2="343.0" stroke="#000" stroke-width="1.2"/>
<text x="0" y="0" font-size="7.7" font-weight="bold" text-anchor="end" transform="translate(614.0999999999999 345.75) scale(0.92 1)" fill="#000">20</text>
<line x1="615.3" y1="321.5" x2="619.8" y2="321.5" stroke="#000" stroke-width="1.2"/>
<text x="0" y="0" font-size="7.7" font-weight="bold" text-anchor="end" transform="translate(614.0999999999999 324.25) scale(0.92 1)" fill="#000">40</text>
<line x1="615.3" y1="300.0" x2="619.8" y2="300.0" stroke="#000" stroke-width="1.2"/>
<text x="0" y="0" font-size="7.7" font-weight="bold" text-anchor="end" transform="translate(614.0999999999999 302.75) scale(0.92 1)" fill="#000">60</text>
<line x1="615.3" y1="278.5" x2="619.8" y2="278.5" stroke="#000" stroke-width="1.2"/>
<text x="0" y="0" font-size="7.7" font-weight="bold" text-anchor="end" transform="translate(614.0999999999999 281.25) scale(0.92 1)" fill="#000">80</text>
<line x1="615.3" y1="257.0" x2="619.8" y2="257.0" stroke="#000" stroke-width="1.2"/>
<text x="0" y="0" font-size="7.7" font-weight="bold" text-anchor="end" transform="translate(614.0999999999999 259.75) scale(0.92 1)" fill="#000">100</text>
<rect x="629.60" y="268.60" width="17.20" height="74.40" fill="#fff" stroke="#111" stroke-width="1.1"/>
<line x1="638.1999999999999" y1="343" x2="638.1999999999999" y2="347" stroke="#000" stroke-width="1.2"/>
<rect x="657.40" y="266.00" width="17.20" height="77.00" fill="#0b7b93" stroke="#111" stroke-width="1.1"/>
<line x1="666.0" y1="343" x2="666.0" y2="347" stroke="#000" stroke-width="1.2"/>
<text x="638.1999999999999" y="355.3" font-size="7.2" font-weight="bold" text-anchor="middle" fill="#000">CON</text>
<text x="666.0" y="355.3" font-size="7.2" font-weight="bold" text-anchor="middle" fill="#000">GL</text>
<line x1="638.1999999999999" y1="265.7" x2="638.1999999999999" y2="270.5" stroke="#333" stroke-width="0.85"/>
<line x1="633.5999999999999" y1="265.7" x2="642.8" y2="265.7" stroke="#333" stroke-width="0.85"/>
<line x1="633.5999999999999" y1="270.5" x2="642.8" y2="270.5" stroke="#333" stroke-width="0.85"/>
<line x1="666.0" y1="262.9" x2="666.0" y2="267.2" stroke="#111" stroke-width="0.9"/>
<line x1="661.4" y1="262.9" x2="670.6" y2="262.9" stroke="#111" stroke-width="0.9"/>
<line x1="661.4" y1="267.2" x2="670.6" y2="267.2" stroke="#111" stroke-width="0.9"/>
<circle cx="637.6" cy="261.1" r="1.55" fill="#000"/>
<circle cx="636.6" cy="262.1" r="1.55" fill="#000"/>
<circle cx="639.7" cy="266" r="1.55" fill="#000"/>
<circle cx="636.2" cy="271.2" r="1.55" fill="#000"/>
<circle cx="640.4" cy="272.4" r="1.55" fill="#000"/>
<circle cx="638" cy="277.6" r="1.55" fill="#000"/>
<path d="M665.70,255.10 L667.50,256.90 L665.70,258.70 L663.90,256.90 Z" fill="#000"/>
<path d="M662.60,259.60 L664.40,261.40 L662.60,263.20 L660.80,261.40 Z" fill="#000"/>
<path d="M669.00,263.20 L670.80,265.00 L669.00,266.80 L667.20,265.00 Z" fill="#000"/>
<path d="M659.80,268.00 L661.60,269.80 L659.80,271.60 L658.00,269.80 Z" fill="#000"/>
<path d="M665.70,268.00 L667.50,269.80 L665.70,271.60 L663.90,269.80 Z" fill="#000"/>
<path d="M672.00,268.00 L673.80,269.80 L672.00,271.60 L670.20,269.80 Z" fill="#000"/>
<text x="0" y="0" font-size="8.9" font-weight="bold" text-anchor="middle" transform="translate(598.0 294.3) rotate(-90) scale(0.9 1)" fill="#000">Healthy chick rate, %</text>
</svg>
</body></html>
